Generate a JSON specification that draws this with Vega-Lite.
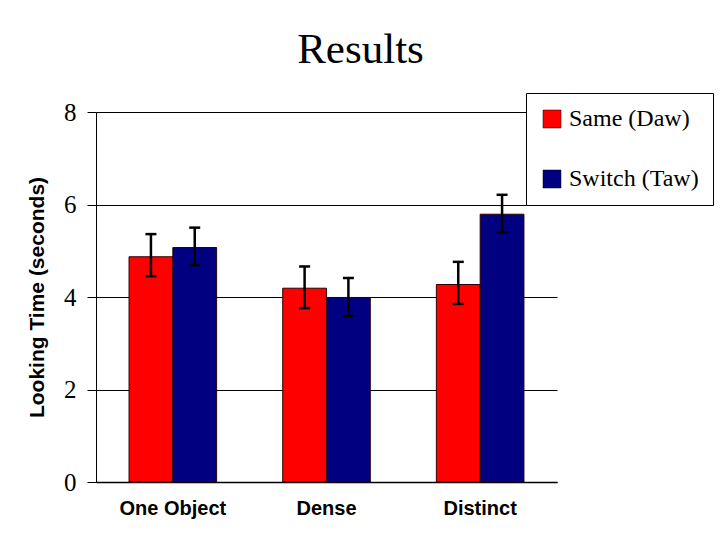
{
  "$schema": "https://vega.github.io/schema/vega-lite/v6.json",
  "width": 461,
  "height": 370,
  "autosize": {"type": "none"},
  "padding": {"left": 96, "top": 112, "right": 163, "bottom": 58},
  "background": "white",
  "title": {
    "text": "Results",
    "font": "Liberation Serif",
    "fontSize": 43,
    "fontWeight": "normal",
    "color": "black",
    "anchor": "middle",
    "frame": "group",
    "dx": 34,
    "offset": 21
  },
  "data": {
    "values": [
      {"cat": "One Object", "cond": "Same (Daw)", "value": 4.87, "lo": 4.45, "hi": 5.36},
      {"cat": "One Object", "cond": "Switch (Taw)", "value": 5.07, "lo": 4.69, "hi": 5.50},
      {"cat": "Dense", "cond": "Same (Daw)", "value": 4.19, "lo": 3.76, "hi": 4.66},
      {"cat": "Dense", "cond": "Switch (Taw)", "value": 3.99, "lo": 3.59, "hi": 4.41},
      {"cat": "Distinct", "cond": "Same (Daw)", "value": 4.27, "lo": 3.85, "hi": 4.76},
      {"cat": "Distinct", "cond": "Switch (Taw)", "value": 5.79, "lo": 5.40, "hi": 6.21}
    ]
  },
  "encoding": {
    "x": {
      "field": "cat",
      "type": "nominal",
      "sort": ["One Object", "Dense", "Distinct"],
      "scale": {"paddingInner": 0.43, "paddingOuter": 0.215},
      "axis": {
        "title": null,
        "labelAngle": 0,
        "labelFont": "Liberation Sans",
        "labelFontWeight": "bold",
        "labelFontSize": 20,
        "labelColor": "black",
        "labelPadding": 16,
        "ticks": false,
        "domainColor": "black",
        "domainWidth": 1.5
      }
    },
    "xOffset": {
      "field": "cond",
      "type": "nominal",
      "sort": ["Same (Daw)", "Switch (Taw)"],
      "scale": {"paddingInner": 0, "paddingOuter": 0}
    }
  },
  "layer": [
    {
      "mark": {"type": "bar", "stroke": "#300000", "strokeWidth": 1},
      "encoding": {
        "y": {
          "field": "value",
          "type": "quantitative",
          "scale": {"domain": [0, 8], "nice": false},
          "axis": {
            "values": [0, 2, 4, 6, 8],
            "title": "Looking Time (seconds)",
            "titleFont": "Liberation Sans",
            "titleFontWeight": "bold",
            "titleFontSize": 21,
            "titleColor": "black",
            "titlePadding": 16,
            "labelFont": "Liberation Serif",
            "labelFontSize": 25,
            "labelColor": "black",
            "labelPadding": 11,
            "tickSize": 9,
            "tickColor": "black",
            "domainColor": "black",
            "grid": true,
            "gridColor": "black",
            "gridOpacity": 1,
            "gridWidth": 1
          }
        },
        "color": {
          "field": "cond",
          "type": "nominal",
          "sort": ["Same (Daw)", "Switch (Taw)"],
          "scale": {"domain": ["Same (Daw)", "Switch (Taw)"], "range": ["#FF0000", "#000080"]},
          "legend": {
            "title": null,
            "orient": "none",
            "legendX": 430,
            "legendY": -19,
            "fillColor": "white",
            "strokeColor": "black",
            "padding": 14,
            "symbolType": "square",
            "symbolSize": 324,
            "symbolStrokeColor": "black",
            "symbolStrokeWidth": 0.5,
            "symbolOpacity": 1,
            "labelFont": "Liberation Serif",
            "labelFontSize": 24,
            "labelColor": "black",
            "labelOffset": 5,
            "rowPadding": 36,
            "labelLimit": 300
          }
        }
      }
    },
    {
      "mark": {"type": "rule", "color": "black", "strokeWidth": 2.5},
      "encoding": {
        "y": {"field": "lo", "type": "quantitative"},
        "y2": {"field": "hi"}
      }
    },
    {
      "mark": {"type": "tick", "color": "black", "size": 11, "thickness": 2.5, "opacity": 1},
      "encoding": {
        "y": {"field": "lo", "type": "quantitative"}
      }
    },
    {
      "mark": {"type": "tick", "color": "black", "size": 11, "thickness": 2.5, "opacity": 1},
      "encoding": {
        "y": {"field": "hi", "type": "quantitative"}
      }
    }
  ],
  "config": {
    "view": {"stroke": null}
  }
}
